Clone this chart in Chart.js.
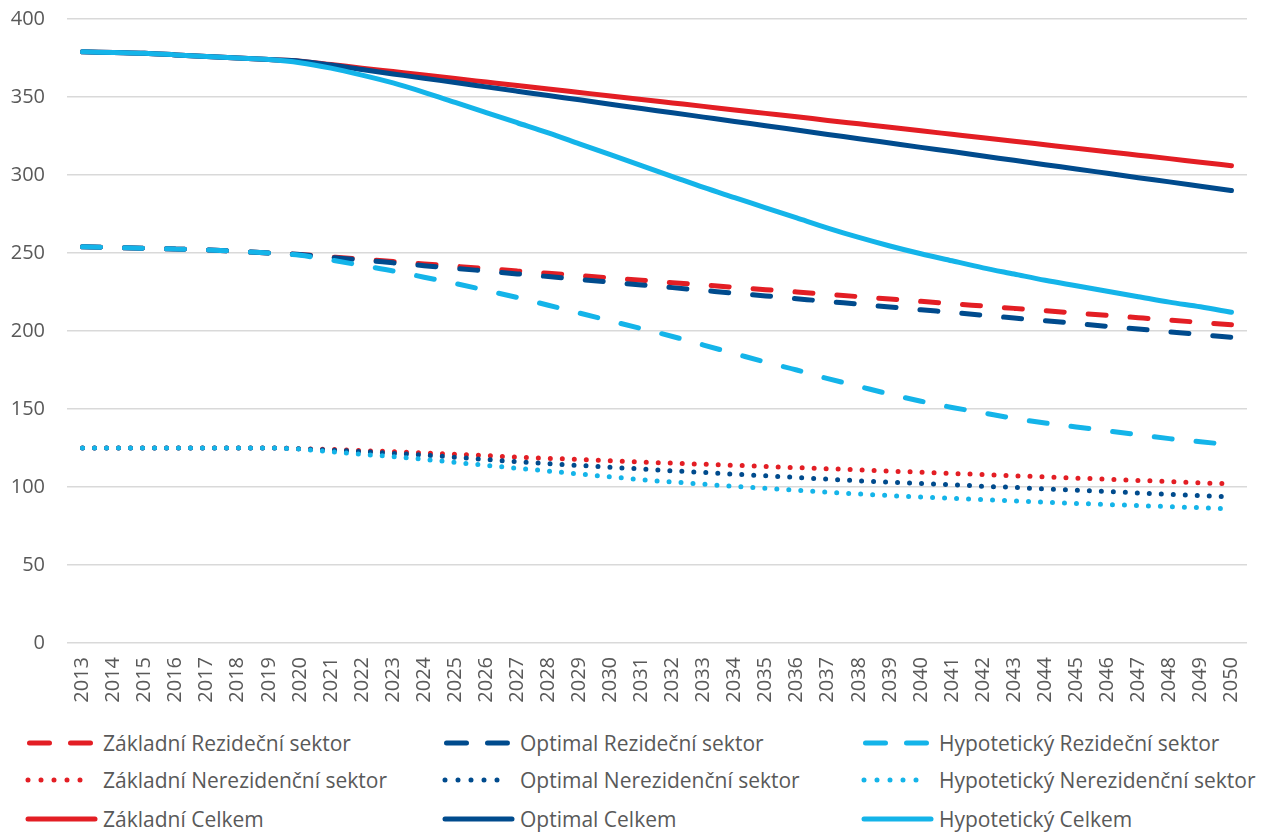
<!DOCTYPE html>
<html>
<head>
<meta charset="utf-8">
<script src="https://cdn.jsdelivr.net/npm/chart.js@4"></script>
<style>
  body { margin: 0; background: #fff; font-family: "Open Sans", sans-serif; }
  #wrap { position: relative; width: 1266px; height: 836px; }
  #box { position: absolute; left: 0; top: 0; width: 1266px; height: 722px; }
  .leg { position: absolute; display: flex; align-items: center; font-size: 21px; color: #595959; white-space: nowrap; }
  .leg svg { width: 100px; height: 20px; flex: none; }
</style>
</head>
<body>
<div id="wrap">
  <div id="box"><canvas id="myChart"></canvas></div>
  <div id="legend"></div>
</div>
<script>
const years = ['2013','2014','2015','2016','2017','2018','2019','2020','2021','2022','2023','2024','2025','2026','2027','2028','2029','2030','2031','2032','2033','2034','2035','2036','2037','2038','2039','2040','2041','2042','2043','2044','2045','2046','2047','2048','2049','2050'];

// Rezideční sektor
var zakladniRez = [254,253.5,253,252.5,252,251,250,249,247.5,246,244.5,243,241.5,240,238.5,237,235.5,234,232.5,231,229.5,228,226.5,225,223.5,222,220.5,219,217.5,216,214.5,213,211.5,210,208.5,207,205.5,204];
var optimalRez = [254,253.5,253,252.5,252,251,250,249,247.2,245.5,243.7,241.9,240.2,238.4,236.6,234.9,233.1,231.3,229.5,227.8,226,224.2,222.5,220.7,218.9,217.2,215.4,213.6,211.9,210.1,208.3,206.6,204.8,203,201.3,199.5,197.7,196];
var hypotetickyRez = [254,253.5,253,252.5,252,251,250,248.5,245.5,242,238.5,234.5,230.5,226,221.5,216.5,211.5,206.5,201.5,196.5,191,185.5,180,175,169.5,164.5,159.5,155,151,147.5,144,141,138.5,136,133.5,131,129,127];

// Nerezidenční sektor
var zakladniNerez = [125,125,125,125,125,125,125,124.5,124.1,123.3,122.6,121.8,121,120.1,119.2,118.4,117.6,116.8,116,115.3,114.6,113.9,113.2,112.4,111.7,111,110.2,109.5,108.7,108,107.2,106.5,105.7,105,104.2,103.5,102.7,102];
var optimalNerez = [125,125,125,125,125,125,125,124.5,123.7,122.7,121.6,120.5,119.1,117.6,116.2,115,113.8,112.7,111.5,110.4,109.3,108.2,107.2,106.1,105,104,103.1,102.3,101.4,100.5,99.7,98.8,98,97.1,96.2,95.3,94.5,93.6];
var hypotetickyNerez = [125,125,125,125,125,125,125,124.3,122.6,121,119.4,117.7,115.8,113.9,112,110.2,108.3,106.5,104.7,103.2,101.8,100.4,99.2,98,96.7,95.5,94.5,93.6,92.7,91.9,91.1,90.3,89.5,88.8,88.1,87.4,86.7,86];

// Celkem
var zakladniCelkem = [379,378.5,378,377,376,375,374,373,370.8,368.5,366.3,364.1,361.8,359.6,357.4,355.1,352.9,350.7,348.4,346.2,344,341.7,339.5,337.3,335,332.8,330.6,328.3,326.1,323.9,321.6,319.4,317.2,314.9,312.7,310.5,308.2,306];
var optimalCelkem = [379,378.5,378,377,376,375,374,373,370.5,367.6,364.8,362,359.3,356.5,353.7,350.9,348.2,345.4,342.6,339.9,337.1,334.3,331.6,328.8,326,323.3,320.5,317.7,315,312.2,309.4,306.6,303.9,301.1,298.3,295.6,292.8,290];
var hypotetickyCelkem = [379,378.5,378,377,376,375,374,372,368.5,364,359,353,346.5,340,333.5,327,320,313,306,299,292,285.5,279,272.5,266,260,254.5,249.5,245,240.5,236.5,232.5,229,225.5,222,218.5,215.5,212];

var yTicks = [0,50,100,150,200,250,300,350,400];

const RED = '#E31E24';
const NAVY = '#004B8D';
const CYAN = '#14B4E9';

const DASH = [18, 24];
const DOT = [0, 12];

function ds(label, data, color, dash) {
  return {
    label: label,
    data: data,
    borderColor: color,
    backgroundColor: color,
    borderWidth: 5,
    borderDash: dash,
    borderCapStyle: 'round',
    borderJoinStyle: 'round',
    pointRadius: 0,
    cubicInterpolationMode: 'monotone',
    fill: false
  };
}

// legend order (rows of three)
var series = [
  ds('Základní Rezideční sektor', zakladniRez, RED, DASH),
  ds('Optimal Rezideční sektor', optimalRez, NAVY, DASH),
  ds('Hypotetický Rezideční sektor', hypotetickyRez, CYAN, DASH),
  ds('Základní Nerezidenční sektor', zakladniNerez, RED, DOT),
  ds('Optimal Nerezidenční sektor', optimalNerez, NAVY, DOT),
  ds('Hypotetický Nerezidenční sektor', hypotetickyNerez, CYAN, DOT),
  ds('Základní Celkem', zakladniCelkem, RED, []),
  ds('Optimal Celkem', optimalCelkem, NAVY, []),
  ds('Hypotetický Celkem', hypotetickyCelkem, CYAN, [])
];

// hypothetical on top, then optimal, then basic
series.forEach(function(s, i) { s.order = 2 - (i % 3); });

var graphData = {
  type: 'line',
  data: { labels: years, datasets: series },
  options: {
    responsive: true,
    maintainAspectRatio: false,
    animation: false,
    layout: { padding: { top: 19, right: 19, left: 0, bottom: 0 } },
    plugins: { legend: { display: false }, tooltip: { enabled: false } },
    scales: {
      x: {
        offset: true,
        afterFit: function(s) { s.height = 79; s.paddingLeft = 0; s.paddingRight = 0; },
        grid: { display: false, drawTicks: false },
        border: { display: false },
        ticks: {
          color: '#595959',
          font: { family: 'Open Sans', size: 20 },
          minRotation: 90,
          maxRotation: 90,
          autoSkip: false,
          padding: 14
        }
      },
      y: {
        min: 0,
        max: 400,
        afterBuildTicks: function(s) { s.ticks = yTicks.map(function(v) { return { value: v }; }); },
        afterFit: function(s) { s.width = 67; s.paddingTop = 0; s.paddingBottom = 0; },
        grid: { color: '#D9D9D9', lineWidth: 1.5, drawTicks: false },
        border: { display: false },
        ticks: {
          color: '#595959',
          font: { family: 'Open Sans', size: 20 },
          padding: 22
        }
      }
    }
  }
};

const ctx = document.getElementById('myChart');
var myChart = new Chart(ctx, graphData);

// legend, 3 columns x 3 rows
var colX = [25, 442, 861];
var rowY = [744, 781, 820];
var legend = document.getElementById('legend');
series.forEach(function(s, i) {
  var el = document.createElement('div');
  el.className = 'leg';
  el.style.left = colX[i % 3] + 'px';
  el.style.top = (rowY[Math.floor(i / 3)] - 15) + 'px';
  var line;
  if (s.borderDash === DASH) {
    line = '<line x1="4.5" y1="10" x2="65.5" y2="10" stroke-dasharray="20 21"/>';
  } else if (s.borderDash === DOT) {
    line = '<line x1="3" y1="10" x2="68" y2="10" stroke-dasharray="0 13"/>';
  } else {
    line = '<line x1="3" y1="10" x2="70" y2="10"/>';
  }
  el.innerHTML = '<svg viewBox="0 0 100 20" width="100" height="20"><g stroke="' + s.borderColor +
    '" stroke-width="5" stroke-linecap="round">' + line + '</g></svg>' +
    '<span style="margin-left:-22px">' + s.label + '</span>';
  legend.appendChild(el);
});
</script>
</body>
</html>
